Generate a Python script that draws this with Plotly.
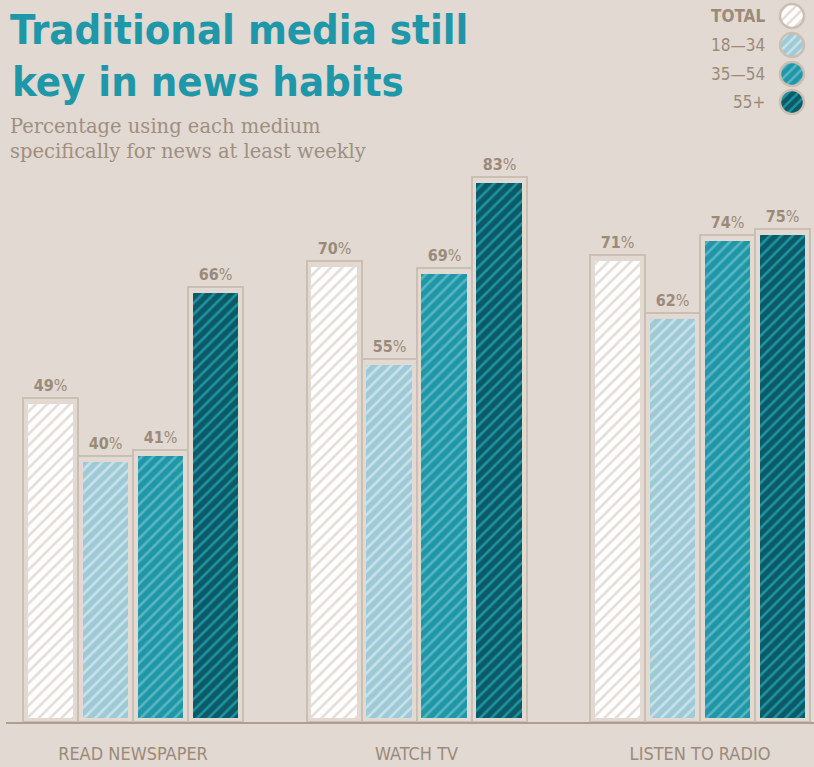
import plotly.graph_objects as go

categories = ["READ NEWSPAPER", "WATCH TV", "LISTEN TO RADIO"]
series_names = ["TOTAL", "18—34", "35—54", "55+"]
legend_labels = ["TOTAL", "18—34", "35—54", "55+"]
values = {
    "TOTAL": [49, 70, 71],
    "18—34": [40, 55, 62],
    "35—54": [41, 69, 74],
    "55+": [66, 83, 75],
}

BG = "#e1d9d2"
TAN = "#9c8a79"
FRAME = "#cbbfb3"
TEAL = "#1e97a8"
fills = {
    "TOTAL": ("#ffffff", "#e4ddd7"),
    "18—34": ("#9ecad7", "#c9e2e9"),
    "35—54": ("#1e97a8", "#5cb5c1"),
    "55+": ("#0c5a66", "#1d93a3"),
}

COND = "DejaVu Sans Condensed, Liberation Sans Narrow, Roboto, sans-serif"
W, H = 814, 767
PLOT_H = 722  # plot area height (t=0, b=45)

step = 0.194
frame_w = 0.194
inner_w = 0.162
inset = 0.6
frame_extra = 0.9

fig = go.Figure()
for s, name in enumerate(series_names):
    xs = [g + (s - 1.5) * step for g in range(len(categories))]
    vals = values[name]
    fig.add_trace(go.Bar(
        x=xs, y=[v + frame_extra for v in vals], base=0, width=frame_w,
        marker=dict(color=BG, line=dict(color=FRAME, width=2)),
        text=[f"<b>{v}</b>%" for v in vals], textposition="outside",
        textfont=dict(family=COND, size=16, color=TAN),
        cliponaxis=False, hoverinfo="skip", showlegend=False,
    ))
    bgc, fgc = fills[name]
    fig.add_trace(go.Bar(
        x=xs, y=[v - inset for v in vals], base=inset, width=inner_w,
        marker=dict(color=bgc, line=dict(width=0),
                    pattern=dict(shape="/", bgcolor=bgc, fgcolor=fgc,
                                 fgopacity=1, size=8, solidity=0.32)),
        hoverinfo="skip", showlegend=False,
    ))

# legend circles via tiny pies
cx = 792
rows_y = [16, 45, 74, 102]
r = 12
for i, name in enumerate(series_names):
    bgc, fgc = fills[name]
    cy = rows_y[i]
    fig.add_trace(go.Pie(
        values=[1], labels=[name], sort=False,
        domain=dict(x=[(cx - r) / W, (cx + r) / W],
                    y=[1 - (cy + r) / PLOT_H, 1 - (cy - r) / PLOT_H]),
        marker=dict(colors=[bgc], line=dict(color=FRAME, width=2.5),
                    pattern=dict(shape="/", bgcolor=bgc, fgcolor=fgc,
                                 fgopacity=1, size=7, solidity=0.35)),
        textinfo="none", hoverinfo="skip", showlegend=False,
    ))
    fig.add_annotation(x=767 / W, y=1 - cy / PLOT_H, xref="paper", yref="paper",
                       text=legend_labels[i] if name != "TOTAL" else "<b>TOTAL</b>",
                       showarrow=False, xanchor="right", yanchor="middle",
                       font=dict(family=COND, size=17, color=TAN))

fig.add_annotation(x=8 / W, y=1 - 3 / PLOT_H, xref="paper", yref="paper",
                   text="<b>Traditional media still</b>", showarrow=False,
                   xanchor="left", yanchor="top",
                   font=dict(family=COND, size=41.5, color=TEAL))
fig.add_annotation(x=10 / W, y=1 - 55 / PLOT_H, xref="paper", yref="paper",
                   text="<b>key in news habits</b>", showarrow=False,
                   xanchor="left", yanchor="top",
                   font=dict(family=COND, size=41.5, color=TEAL))
fig.add_annotation(x=8 / W, y=1 - 113 / PLOT_H, xref="paper", yref="paper",
                   text="Percentage using each medium<br>specifically for news at least weekly",
                   showarrow=False, xanchor="left", yanchor="top", align="left",
                   font=dict(family="DejaVu Serif, serif", size=19.5, color="#a08f80"))

fig.update_layout(
    width=W, height=H, paper_bgcolor=BG, plot_bgcolor=BG,
    margin=dict(l=0, r=0, t=0, b=45),
    barmode="overlay", bargap=0, hovermode=False,
    xaxis=dict(domain=[6 / W, 1], range=[-0.448, 2.402],
               tickvals=list(range(len(categories))), ticktext=categories,
               showgrid=False, zeroline=False, showline=True,
               linecolor="#b09e8e", linewidth=2, ticks="",
               ticklabelstandoff=14,
               tickfont=dict(family=COND, size=18, color=TAN),
               fixedrange=True),
    yaxis=dict(domain=[0, 650 / PLOT_H], range=[0, 100], visible=False,
               fixedrange=True),
    showlegend=False,
)
fig.write_html("out.html")
